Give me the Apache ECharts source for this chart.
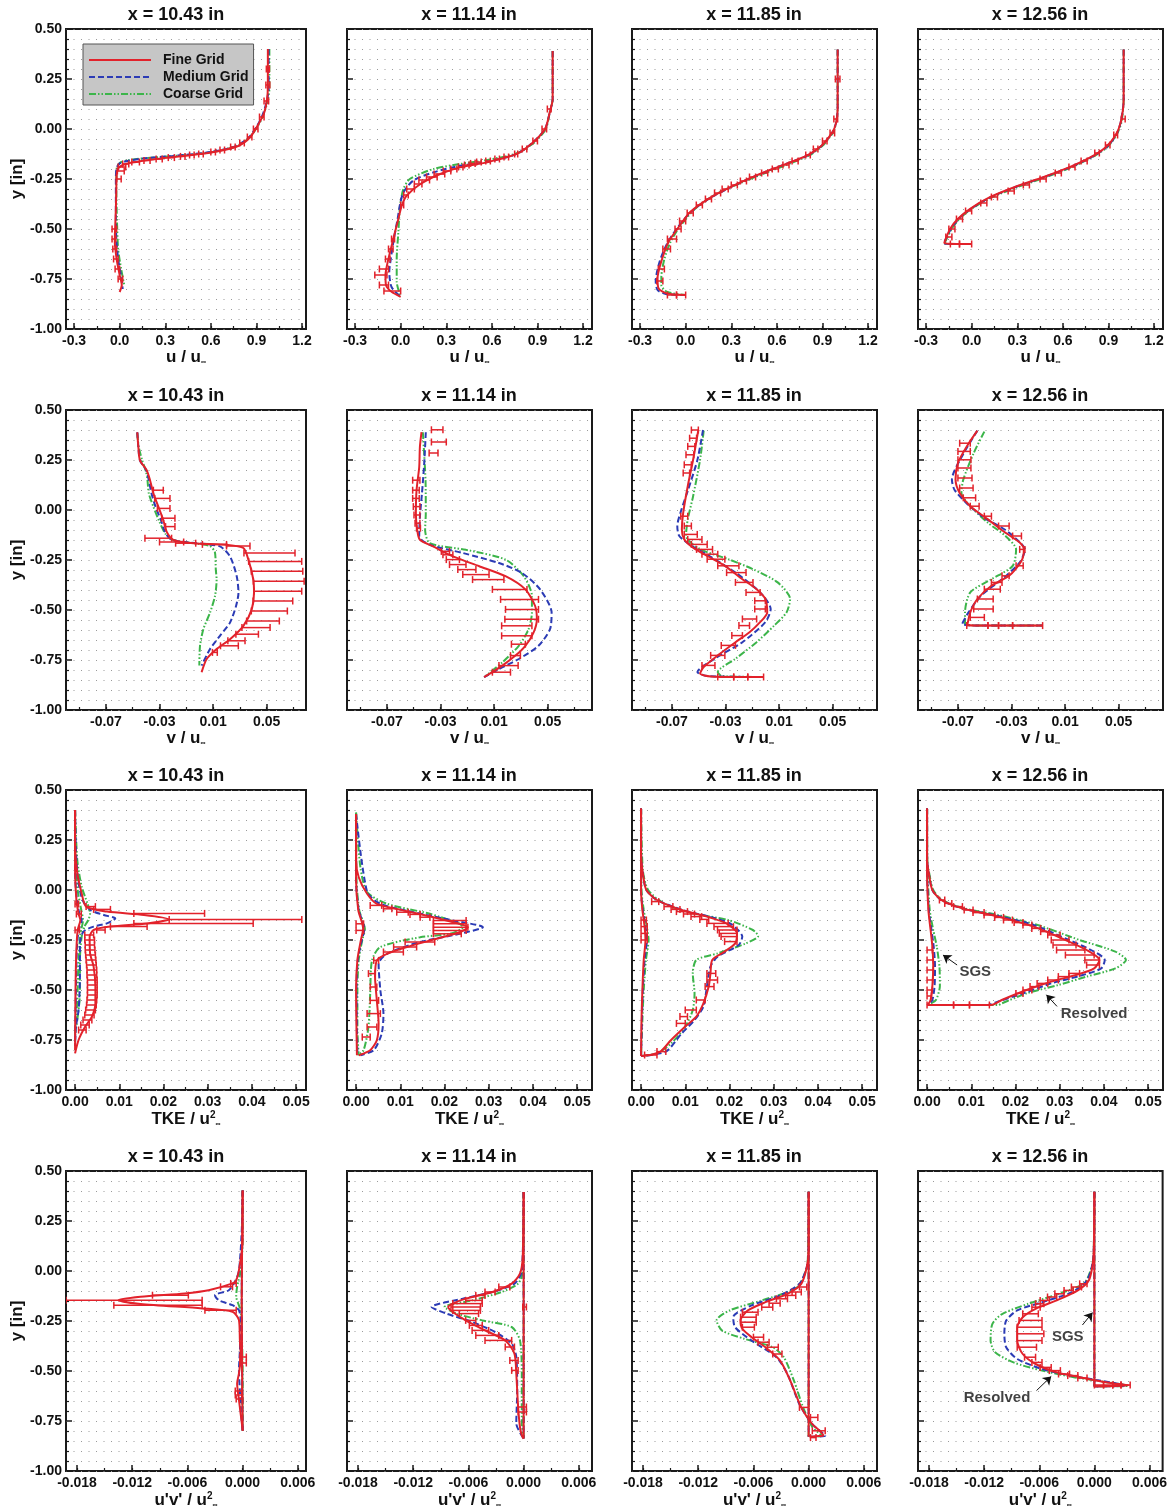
<!DOCTYPE html>
<html><head><meta charset="utf-8">
<script src="https://cdn.jsdelivr.net/npm/echarts@6/dist/echarts.min.js"></script>
<style>html,body{margin:0;padding:0;background:#fff}#c{width:1170px;height:1512px}</style>
</head><body><div id="c"></div>
<script>
// ---------------- tick labels / categories ----------------
const STATIONS = ['x = 10.43 in', 'x = 11.14 in', 'x = 11.85 in', 'x = 12.56 in'];
const LEGEND_NAMES = ['Fine Grid', 'Medium Grid', 'Coarse Grid'];
const U_TICKS = [-0.3, 0.0, 0.3, 0.6, 0.9, 1.2];
const U_MINOR = [-0.3, -0.15, 0.0, 0.15, 0.3, 0.45, 0.6, 0.75, 0.9, 1.05, 1.2];
const V_TICKS = [-0.07, -0.03, 0.01, 0.05];
const V_MINOR = [-0.09, -0.07, -0.05, -0.03, -0.01, 0.01, 0.03, 0.05, 0.07];
const K_TICKS = [0.0, 0.01, 0.02, 0.03, 0.04, 0.05];
const K_MINOR = [0.0, 0.005, 0.01, 0.015, 0.02, 0.025, 0.03, 0.035, 0.04, 0.045, 0.05];
const W_TICKS = [-0.018, -0.012, -0.006, 0.0, 0.006];
const W_MINOR = [-0.018, -0.015, -0.012, -0.009, -0.006, -0.003, 0.0, 0.003, 0.006];

// ---------------- row 1 : u / u_inf  ([value, y]) ----------------
const U1_FINE = [[0.975,0.40],[0.975,0.22],[0.97,0.15],[0.95,0.08],[0.91,0.02],[0.86,-0.04],[0.78,-0.085],[0.62,-0.115],[0.42,-0.135],[0.22,-0.152],[0.08,-0.168],[0.02,-0.18],[-0.01,-0.198],[-0.02,-0.23],[-0.022,-0.3],[-0.025,-0.4],[-0.03,-0.5],[-0.032,-0.56],[-0.02,-0.65],[0.0,-0.73],[0.014,-0.78],[0.0,-0.815]];
const U1_MED = [[0.98,0.40],[0.98,0.2],[0.965,0.13],[0.935,0.06],[0.9,0.01],[0.84,-0.05],[0.75,-0.09],[0.57,-0.118],[0.35,-0.135],[0.15,-0.148],[0.05,-0.16],[0.0,-0.172],[-0.02,-0.195],[-0.025,-0.25],[-0.025,-0.4],[-0.022,-0.55],[-0.01,-0.65],[0.01,-0.74],[0.02,-0.8]];
const U1_COARSE = [[0.985,0.40],[0.985,0.2],[0.97,0.13],[0.94,0.06],[0.905,0.01],[0.845,-0.05],[0.755,-0.09],[0.57,-0.12],[0.35,-0.135],[0.15,-0.147],[0.05,-0.157],[0.0,-0.17],[-0.02,-0.2],[-0.022,-0.3],[-0.018,-0.45],[-0.01,-0.6],[0.01,-0.7],[0.03,-0.78]];
const U1_ERR = [[0.30,0.965,0.985],[0.22,0.962,0.988],[0.14,0.95,0.98],[0.06,0.92,0.95],[0.0,0.88,0.91],[-0.04,0.84,0.87],[-0.07,0.79,0.82],[-0.09,0.73,0.76],[-0.105,0.66,0.69],[-0.115,0.6,0.63],[-0.125,0.52,0.55],[-0.13,0.46,0.49],[-0.137,0.4,0.43],[-0.143,0.32,0.36],[-0.15,0.24,0.28],[-0.157,0.16,0.2],[-0.165,0.08,0.13],[-0.175,0.02,0.06],[-0.19,-0.01,0.04],[-0.21,-0.015,0.03],[-0.25,-0.02,0.01],[-0.5,-0.05,-0.02],[-0.55,-0.05,-0.025],[-0.6,-0.045,-0.02],[-0.65,-0.04,-0.01],[-0.7,-0.03,0.0],[-0.75,-0.01,0.02]];

const U2_FINE = [[1.0,0.39],[1.0,0.15],[0.98,0.08],[0.95,0.0],[0.87,-0.067],[0.76,-0.126],[0.565,-0.167],[0.39,-0.192],[0.26,-0.225],[0.13,-0.275],[0.04,-0.333],[0.007,-0.383],[-0.015,-0.449],[-0.048,-0.549],[-0.08,-0.648],[-0.1,-0.731],[-0.096,-0.781],[-0.06,-0.814],[0.0,-0.839]];
const U2_MED = [[1.0,0.39],[1.0,0.15],[0.98,0.08],[0.95,0.0],[0.87,-0.067],[0.76,-0.126],[0.565,-0.165],[0.39,-0.184],[0.215,-0.217],[0.083,-0.258],[0.018,-0.317],[-0.005,-0.38],[-0.02,-0.45],[-0.045,-0.55],[-0.065,-0.65],[-0.075,-0.715],[-0.06,-0.79],[0.0,-0.839]];
const U2_COARSE = [[1.0,0.39],[1.0,0.15],[0.98,0.08],[0.955,0.0],[0.88,-0.067],[0.77,-0.12],[0.57,-0.155],[0.39,-0.175],[0.215,-0.2],[0.06,-0.25],[0.018,-0.3],[-0.004,-0.383],[-0.015,-0.515],[-0.026,-0.65],[-0.026,-0.764],[0.0,-0.839]];
const U2_ERR = [[0.1,0.965,0.99],[0.0,0.93,0.96],[-0.06,0.87,0.9],[-0.1,0.8,0.83],[-0.125,0.75,0.77],[-0.14,0.68,0.71],[-0.15,0.62,0.65],[-0.16,0.56,0.59],[-0.165,0.5,0.53],[-0.172,0.46,0.49],[-0.18,0.42,0.45],[-0.19,0.38,0.41],[-0.2,0.33,0.37],[-0.21,0.28,0.33],[-0.225,0.22,0.29],[-0.24,0.17,0.24],[-0.255,0.12,0.19],[-0.275,0.09,0.14],[-0.3,0.04,0.09],[-0.33,0.02,0.05],[-0.38,0.0,0.02],[-0.55,-0.06,-0.04],[-0.6,-0.08,-0.05],[-0.65,-0.1,-0.07],[-0.7,-0.14,-0.08],[-0.73,-0.17,-0.09],[-0.78,-0.14,-0.08],[-0.81,-0.11,0.0]];

const U3_FINE = [[1.0,0.397],[1.0,0.1],[0.99,0.032],[0.965,-0.017],[0.894,-0.084],[0.797,-0.133],[0.63,-0.183],[0.462,-0.233],[0.294,-0.291],[0.15,-0.349],[0.03,-0.415],[-0.053,-0.498],[-0.113,-0.565],[-0.161,-0.664],[-0.185,-0.747],[-0.178,-0.797],[-0.125,-0.822],[0.0,-0.83]];
const U3_MED = [[1.0,0.397],[1.0,0.1],[0.99,0.032],[0.965,-0.017],[0.894,-0.084],[0.8,-0.133],[0.63,-0.183],[0.46,-0.235],[0.29,-0.293],[0.15,-0.35],[0.03,-0.418],[-0.06,-0.5],[-0.12,-0.57],[-0.17,-0.66],[-0.197,-0.76],[-0.185,-0.805],[-0.13,-0.825],[0.0,-0.83]];
const U3_COARSE = [[1.0,0.397],[1.0,0.1],[0.99,0.032],[0.97,-0.017],[0.9,-0.084],[0.81,-0.133],[0.65,-0.183],[0.49,-0.23],[0.33,-0.28],[0.19,-0.33],[0.06,-0.4],[-0.04,-0.49],[-0.1,-0.565],[-0.14,-0.65],[-0.16,-0.74],[-0.16,-0.78],[-0.12,-0.815],[0.0,-0.83]];
const U3_ERR = [[0.25,0.985,1.015],[0.05,0.975,1.0],[-0.02,0.95,0.98],[-0.06,0.9,0.93],[-0.1,0.84,0.87],[-0.13,0.79,0.82],[-0.16,0.7,0.74],[-0.18,0.64,0.68],[-0.2,0.57,0.61],[-0.22,0.5,0.54],[-0.24,0.42,0.46],[-0.26,0.36,0.4],[-0.28,0.3,0.34],[-0.3,0.24,0.28],[-0.32,0.19,0.23],[-0.35,0.13,0.17],[-0.38,0.07,0.11],[-0.42,0.01,0.05],[-0.46,-0.04,0.0],[-0.5,-0.07,-0.03],[-0.55,-0.12,-0.06],[-0.6,-0.15,-0.1],[-0.7,-0.18,-0.14],[-0.76,-0.19,-0.15],[-0.83,-0.12,-0.06],[-0.83,-0.06,0.0]];

const U4_FINE = [[1.0,0.397],[1.0,0.148],[0.98,0.032],[0.945,-0.034],[0.88,-0.092],[0.78,-0.142],[0.64,-0.192],[0.47,-0.241],[0.28,-0.291],[0.12,-0.341],[-0.01,-0.399],[-0.09,-0.449],[-0.14,-0.498],[-0.17,-0.548],[-0.18,-0.57],[-0.1,-0.575],[0.0,-0.575]];
const U4_MED = [[1.0,0.397],[1.0,0.148],[0.98,0.032],[0.948,-0.034],[0.885,-0.092],[0.785,-0.142],[0.645,-0.192],[0.475,-0.241],[0.285,-0.291],[0.125,-0.341],[-0.005,-0.399],[-0.085,-0.449],[-0.135,-0.498],[-0.17,-0.55],[-0.185,-0.572],[-0.1,-0.575],[0.0,-0.575]];
const U4_COARSE = [[1.0,0.397],[1.0,0.148],[0.985,0.032],[0.95,-0.034],[0.89,-0.092],[0.79,-0.142],[0.655,-0.192],[0.49,-0.241],[0.3,-0.291],[0.135,-0.341],[0.0,-0.399],[-0.08,-0.449],[-0.13,-0.498],[-0.165,-0.55],[-0.18,-0.572],[-0.1,-0.575],[0.0,-0.575]];
const U4_ERR = [[0.05,0.985,1.01],[-0.03,0.935,0.96],[-0.08,0.88,0.91],[-0.12,0.81,0.84],[-0.16,0.72,0.76],[-0.19,0.64,0.68],[-0.22,0.55,0.59],[-0.25,0.45,0.49],[-0.28,0.34,0.38],[-0.31,0.24,0.28],[-0.34,0.13,0.17],[-0.37,0.06,0.1],[-0.41,-0.04,0.0],[-0.45,-0.1,-0.06],[-0.5,-0.15,-0.11],[-0.54,-0.17,-0.13],[-0.575,-0.14,-0.08],[-0.575,-0.08,0.0]];

// ---------------- row 2 : v / u_inf ----------------
const V1_FINE = [[-0.0466,0.389],[-0.0458,0.315],[-0.0446,0.248],[-0.0396,0.199],[-0.0371,0.149],[-0.0346,0.083],[-0.0309,0.017],[-0.0272,-0.05],[-0.0247,-0.108],[-0.0197,-0.149],[-0.0048,-0.166],[0.0201,-0.174],[0.0326,-0.19],[0.0363,-0.248],[0.04,-0.348],[0.0405,-0.414],[0.0388,-0.497],[0.0326,-0.579],[0.0226,-0.646],[0.0126,-0.695],[0.0052,-0.745],[0.0014,-0.811]];
const V1_MED = [[-0.0466,0.389],[-0.0458,0.315],[-0.0446,0.248],[-0.04,0.199],[-0.038,0.149],[-0.036,0.083],[-0.033,0.017],[-0.029,-0.05],[-0.026,-0.108],[-0.021,-0.149],[-0.0023,-0.166],[0.0151,-0.182],[0.0226,-0.232],[0.0276,-0.331],[0.0289,-0.414],[0.0271,-0.48],[0.0226,-0.563],[0.0151,-0.629],[0.0077,-0.695],[0.0014,-0.778]];
const V1_COARSE = [[-0.0466,0.385],[-0.0455,0.315],[-0.043,0.25],[-0.04,0.19],[-0.039,0.149],[-0.038,0.083],[-0.0346,0.017],[-0.03,-0.06],[-0.0255,-0.12],[-0.0197,-0.15],[-0.0048,-0.166],[0.0075,-0.18],[0.0113,-0.21],[0.012,-0.298],[0.0126,-0.348],[0.0114,-0.43],[0.0077,-0.513],[0.0027,-0.596],[0.0002,-0.679],[-0.0003,-0.778]];
const V1_ERR = [[0.099,-0.0346,-0.0272],[0.058,-0.0336,-0.0222],[0.008,-0.0316,-0.0222],[-0.041,-0.0284,-0.0185],[-0.083,-0.0255,-0.0185],[-0.141,-0.0409,-0.021],[-0.16,-0.03,-0.012],[-0.166,-0.018,-0.003],[-0.172,0.002,0.02],[-0.18,0.02,0.0375],[-0.215,0.033,0.0711],[-0.257,0.0365,0.0761],[-0.306,0.0385,0.0769],[-0.356,0.04,0.0779],[-0.406,0.0405,0.0761],[-0.455,0.0398,0.0694],[-0.505,0.0385,0.0654],[-0.555,0.035,0.0594],[-0.588,0.0315,0.0525],[-0.621,0.027,0.0438],[-0.654,0.021,0.0338],[-0.679,0.0155,0.0288],[-0.712,0.0095,0.0131]];

const V2_FINE = [[-0.0442,0.389],[-0.0454,0.315],[-0.0459,0.215],[-0.0479,0.099],[-0.0484,-0.017],[-0.0474,-0.099],[-0.0454,-0.149],[-0.0356,-0.182],[-0.0208,-0.232],[-0.0011,-0.281],[0.0185,-0.331],[0.0333,-0.397],[0.0406,-0.48],[0.0419,-0.546],[0.0394,-0.613],[0.0333,-0.679],[0.0259,-0.728],[0.0161,-0.778],[0.0025,-0.836]];
const V2_MED = [[-0.041,0.389],[-0.0422,0.23],[-0.0439,0.08],[-0.0454,-0.035],[-0.0459,-0.132],[-0.038,-0.174],[-0.0134,-0.215],[0.0136,-0.265],[0.0308,-0.315],[0.0443,-0.397],[0.0529,-0.513],[0.0517,-0.596],[0.0431,-0.679],[0.0284,-0.745],[0.0136,-0.795],[0.0025,-0.836]];
const V2_COARSE = [[-0.0432,0.389],[-0.0412,0.149],[-0.041,-0.017],[-0.0415,-0.1],[-0.038,-0.166],[-0.011,-0.199],[0.0185,-0.248],[0.0321,-0.331],[0.0382,-0.43],[0.0382,-0.513],[0.0357,-0.596],[0.0284,-0.679],[0.0161,-0.762],[0.0025,-0.836]];
const V2_ERR = [[0.401,-0.0368,-0.0282],[0.34,-0.0368,-0.0257],[0.285,-0.0385,-0.0319],[0.149,-0.0508,-0.0454],[0.099,-0.0508,-0.0459],[0.058,-0.0508,-0.0459],[0.017,-0.0503,-0.0454],[-0.025,-0.0498,-0.0454],[-0.066,-0.049,-0.0454],[-0.091,-0.0479,-0.045],[-0.207,-0.0294,-0.0233],[-0.224,-0.0282,-0.0208],[-0.248,-0.0257,-0.0159],[-0.273,-0.0233,-0.011],[-0.298,-0.0171,-0.0036],[-0.323,-0.0134,0.0062],[-0.348,-0.0061,0.0173],[-0.397,0.0087,0.0345],[-0.447,0.0148,0.0431],[-0.497,0.0185,0.0431],[-0.546,0.018,0.0431],[-0.579,0.0156,0.0382],[-0.629,0.0156,0.0382],[-0.671,0.0229,0.0333],[-0.728,0.0222,0.0296],[-0.778,0.0136,0.0279],[-0.811,0.0087,0.0222]];

const V3_FINE = [[-0.0503,0.40],[-0.0542,0.251],[-0.0582,0.119],[-0.0616,-0.014],[-0.0626,-0.097],[-0.0608,-0.147],[-0.0542,-0.188],[-0.0437,-0.23],[-0.0305,-0.279],[-0.0174,-0.346],[-0.0068,-0.396],[-0.0003,-0.445],[0.0011,-0.512],[-0.0042,-0.561],[-0.0121,-0.611],[-0.0226,-0.661],[-0.0358,-0.727],[-0.0463,-0.785],[-0.049,-0.818],[-0.041,-0.832],[-0.0016,-0.835]];
const V3_MED = [[-0.0468,0.40],[-0.051,0.25],[-0.058,0.1],[-0.063,0.0],[-0.066,-0.08],[-0.0645,-0.13],[-0.055,-0.18],[-0.042,-0.23],[-0.0226,-0.313],[-0.0042,-0.412],[0.0037,-0.495],[-0.0003,-0.561],[-0.0174,-0.661],[-0.0384,-0.744],[-0.051,-0.81],[-0.0437,-0.83],[-0.0016,-0.835]];
const V3_COARSE = [[-0.0463,0.397],[-0.049,0.251],[-0.0542,0.069],[-0.0582,-0.047],[-0.0595,-0.13],[-0.049,-0.196],[-0.0279,-0.246],[-0.0095,-0.296],[0.0089,-0.362],[0.0182,-0.445],[0.0155,-0.512],[0.0063,-0.578],[-0.0068,-0.661],[-0.0226,-0.744],[-0.0358,-0.81],[-0.033,-0.83],[-0.0016,-0.835]];
const V3_ERR = [[0.40,-0.0555,-0.0503],[0.359,-0.0568,-0.0516],[0.318,-0.0582,-0.0529],[0.276,-0.0595,-0.0537],[0.226,-0.0608,-0.0555],[0.185,-0.0616,-0.0568],[-0.031,-0.0634,-0.0582],[-0.08,-0.0608,-0.0555],[-0.122,-0.0608,-0.0511],[-0.147,-0.0582,-0.0476],[-0.172,-0.0555,-0.0437],[-0.197,-0.0516,-0.0397],[-0.221,-0.0476,-0.0358],[-0.246,-0.0437,-0.0305],[-0.279,-0.0358,-0.02],[-0.313,-0.0292,-0.0147],[-0.362,-0.0226,-0.0095],[-0.412,-0.0147,-0.0042],[-0.454,-0.0082,-0.0003],[-0.495,-0.0082,-0.0003],[-0.545,-0.0174,-0.0068],[-0.578,-0.02,-0.0121],[-0.628,-0.0253,-0.0174],[-0.677,-0.0332,-0.0226],[-0.727,-0.0411,-0.0305],[-0.777,-0.0476,-0.0379],[-0.835,-0.0358,-0.0239],[-0.835,-0.0239,-0.0134],[-0.835,-0.0134,-0.0016]];

const V4_FINE = [[-0.0555,0.397],[-0.0634,0.318],[-0.07,0.235],[-0.0718,0.152],[-0.0687,0.085],[-0.0608,0.019],[-0.0476,-0.047],[-0.0345,-0.114],[-0.0239,-0.163],[-0.0208,-0.197],[-0.0226,-0.255],[-0.0318,-0.329],[-0.045,-0.379],[-0.0555,-0.445],[-0.0608,-0.512],[-0.0629,-0.575],[-0.0503,-0.578],[-0.0068,-0.578]];
const V4_MED = [[-0.0555,0.397],[-0.066,0.28],[-0.0745,0.152],[-0.0725,0.1],[-0.0634,0.033],[-0.05,-0.04],[-0.0345,-0.1],[-0.024,-0.16],[-0.02,-0.197],[-0.024,-0.263],[-0.0371,-0.346],[-0.0529,-0.429],[-0.0621,-0.512],[-0.0668,-0.57],[-0.0503,-0.578],[-0.0068,-0.578]];
const V4_COARSE = [[-0.0503,0.392],[-0.0582,0.285],[-0.066,0.152],[-0.0674,0.085],[-0.0608,0.019],[-0.0476,-0.064],[-0.0345,-0.13],[-0.0266,-0.197],[-0.0292,-0.28],[-0.045,-0.346],[-0.0608,-0.412],[-0.0647,-0.512],[-0.0647,-0.57],[-0.05,-0.578],[-0.0068,-0.578]];
const V4_ERR = [[0.334,-0.0687,-0.0608],[0.293,-0.07,-0.0608],[0.251,-0.07,-0.0603],[0.21,-0.07,-0.0603],[0.16,-0.07,-0.0595],[0.11,-0.0687,-0.0587],[0.061,-0.066,-0.0568],[0.019,-0.0608,-0.0542],[-0.031,-0.0503,-0.045],[-0.08,-0.0397,-0.0318],[-0.13,-0.0292,-0.0226],[-0.197,-0.0239,-0.02],[-0.279,-0.0266,-0.0213],[-0.329,-0.0371,-0.0318],[-0.362,-0.045,-0.0371],[-0.396,-0.0503,-0.0384],[-0.445,-0.0555,-0.0437],[-0.495,-0.0582,-0.0437],[-0.537,-0.0608,-0.0503],[-0.578,-0.0634,-0.0476],[-0.578,-0.0476,-0.0397],[-0.578,-0.0397,-0.0292],[-0.578,-0.0292,-0.0068]];

// ---------------- row 3 : TKE / u_inf^2 (resolved + SGS) ----------------
const K1_FINE = [[0,0.4],[0,0.233],[0.0004,0.1],[0.0015,-0.017],[0.0025,-0.083],[0.0072,-0.108],[0.0156,-0.125],[0.0213,-0.147],[0.0163,-0.167],[0.008,-0.183],[0.0042,-0.2],[0.0033,-0.233],[0.0034,-0.317],[0.0042,-0.383],[0.0046,-0.483],[0.0046,-0.567],[0.0038,-0.633],[0.0023,-0.683],[0.0008,-0.75],[0,-0.817]];
const K1_MED = [[0,0.4],[0.0002,0.2],[0.0007,0.05],[0.0017,-0.05],[0.0035,-0.1],[0.0065,-0.125],[0.0091,-0.142],[0.0072,-0.167],[0.0042,-0.183],[0.0019,-0.208],[0.0011,-0.267],[0.0011,-0.433],[0.0008,-0.6],[0.0002,-0.683],[0,-0.767]];
const K1_COARSE = [[0,0.4],[0.0005,0.15],[0.0015,0.017],[0.0028,-0.067],[0.0034,-0.117],[0.003,-0.15],[0.0022,-0.18],[0.0015,-0.233],[0.0011,-0.35],[0.0011,-0.517],[0.0005,-0.65],[0,-0.717]];
const K1_FINE_SGS = [[0,0.4],[0,0.1],[0.0003,-0.05],[0.0008,-0.12],[0.0012,-0.15],[0.0006,-0.2],[0.0003,-0.3],[0.0001,-0.5],[0,-0.8]];
const K1_MED_SGS = [[0,0.4],[0,0.1],[0.0004,-0.05],[0.001,-0.12],[0.0015,-0.15],[0.0008,-0.2],[0.0004,-0.3],[0.0002,-0.5],[0,-0.78]];
const K1_COARSE_SGS = [[0,0.4],[0.0001,0.2],[0.0006,0.0],[0.0014,-0.1],[0.0018,-0.15],[0.0012,-0.22],[0.0008,-0.35],[0.0005,-0.55],[0,-0.72]];
const K1_ERR = [[-0.083,0.0025,0.0046],[-0.097,0.0042,0.008],[-0.117,0.0133,0.0293],[-0.147,0.0213,0.0513],[-0.167,0.0133,0.0403],[-0.183,0.008,0.0163],[-0.2,0.0049,0.0068],[-0.225,0.0022,0.0042],[-0.25,0.0022,0.0044],[-0.275,0.0023,0.0044],[-0.3,0.0023,0.0045],[-0.325,0.0024,0.0046],[-0.35,0.0025,0.0047],[-0.375,0.0026,0.0048],[-0.4,0.0027,0.0049],[-0.425,0.0027,0.0049],[-0.45,0.0028,0.005],[-0.475,0.0028,0.005],[-0.5,0.0028,0.005],[-0.525,0.0028,0.005],[-0.55,0.0027,0.0049],[-0.575,0.0026,0.0048],[-0.6,0.0024,0.0046],[-0.625,0.0022,0.0043],[-0.65,0.0018,0.0038],[-0.675,0.0013,0.0032],[-0.7,0.0008,0.0025],[-0.07,0.0,0.0008],[-0.12,0.0003,0.0014],[-0.2,0.0,0.001]];

const K2_FINE = [[0,0.38],[0,0.147],[0.0006,0.064],[0.0025,-0.019],[0.0047,-0.069],[0.0107,-0.102],[0.0175,-0.136],[0.0234,-0.169],[0.0253,-0.186],[0.0234,-0.211],[0.0182,-0.244],[0.0115,-0.285],[0.007,-0.319],[0.0047,-0.352],[0.0043,-0.435],[0.0047,-0.552],[0.0051,-0.668],[0.0047,-0.751],[0.0032,-0.801],[0.0006,-0.826]];
const K2_MED = [[0,0.38],[0.0025,-0.01],[0.0055,-0.069],[0.013,-0.111],[0.0219,-0.152],[0.0287,-0.186],[0.0234,-0.219],[0.0145,-0.26],[0.007,-0.319],[0.0051,-0.369],[0.0055,-0.502],[0.0062,-0.618],[0.0058,-0.718],[0.004,-0.801],[0.001,-0.826]];
const K2_COARSE = [[0,0.388],[0.001,0.11],[0.0025,-0.01],[0.007,-0.069],[0.0167,-0.119],[0.0234,-0.169],[0.0242,-0.186],[0.0212,-0.219],[0.0145,-0.236],[0.0055,-0.285],[0.0036,-0.352],[0.0032,-0.518],[0.0028,-0.685],[0.0017,-0.801],[0.0004,-0.826]];
const K2_FINE_SGS = [[0,0.38],[0,0.05],[0.0005,-0.1],[0.0013,-0.16],[0.0016,-0.194],[0.0011,-0.25],[0.0003,-0.35],[0,-0.5],[0.0001,-0.7],[0.0002,-0.826]];
const K2_MED_SGS = [[0,0.38],[0,0.05],[0.0006,-0.1],[0.0015,-0.16],[0.0019,-0.194],[0.0013,-0.25],[0.0004,-0.35],[0.0001,-0.5],[0.0002,-0.7],[0.0003,-0.826]];
const K2_COARSE_SGS = [[0,0.385],[0.0001,0.05],[0.0007,-0.1],[0.0016,-0.16],[0.002,-0.194],[0.0014,-0.25],[0.0006,-0.35],[0.0003,-0.5],[0.0003,-0.7],[0.0006,-0.826]];
const K2_ERR = [[-0.077,0.0032,0.0058],[-0.094,0.0062,0.0081],[-0.111,0.0092,0.0118],[-0.122,0.0122,0.0145],[-0.136,0.0145,0.0167],[-0.152,0.0175,0.0249],[-0.169,0.0175,0.0249],[-0.186,0.0175,0.0253],[-0.202,0.0175,0.0249],[-0.219,0.0175,0.0238],[-0.26,0.0111,0.0178],[-0.285,0.0085,0.0137],[-0.31,0.0062,0.0107],[-0.352,0.004,0.0051],[-0.418,0.0028,0.0043],[-0.485,0.0032,0.0047],[-0.552,0.0032,0.0051],[-0.618,0.0025,0.0055],[-0.685,0.0025,0.0047],[-0.735,0.0014,0.0032],[-0.169,0.0,0.0017],[-0.202,0.0,0.0017]];

const K3_FINE = [[0,0.408],[0,0.183],[0.0004,0.083],[0.0012,0.0],[0.0036,-0.05],[0.0092,-0.1],[0.0149,-0.133],[0.0193,-0.167],[0.0217,-0.217],[0.0213,-0.267],[0.0189,-0.308],[0.0161,-0.35],[0.0157,-0.417],[0.0153,-0.483],[0.0141,-0.567],[0.0125,-0.633],[0.01,-0.683],[0.0068,-0.75],[0.0044,-0.808],[0.002,-0.825],[0,-0.83]];
const K3_MED = [[0,0.408],[0,0.183],[0.0004,0.083],[0.0012,0.0],[0.0036,-0.05],[0.0094,-0.1],[0.0153,-0.133],[0.0201,-0.167],[0.0229,-0.233],[0.0221,-0.275],[0.0173,-0.333],[0.0157,-0.383],[0.0149,-0.483],[0.0141,-0.583],[0.0121,-0.65],[0.0092,-0.717],[0.0056,-0.808],[0,-0.83]];
const K3_COARSE = [[0,0.408],[0.0004,0.1],[0.0016,0.0],[0.0052,-0.067],[0.0117,-0.117],[0.0197,-0.15],[0.0253,-0.2],[0.0265,-0.23],[0.0237,-0.267],[0.0173,-0.317],[0.0125,-0.35],[0.0117,-0.417],[0.0121,-0.517],[0.0117,-0.6],[0.01,-0.683],[0.0068,-0.767],[0.0036,-0.817],[0,-0.83]];
const K3_FINE_SGS = [[0,0.408],[0,0.0],[0.0003,-0.1],[0.0008,-0.183],[0.001,-0.25],[0.0006,-0.35],[0.0003,-0.5],[0.0001,-0.65],[0,-0.83]];
const K3_MED_SGS = [[0,0.408],[0,0.0],[0.0004,-0.1],[0.001,-0.183],[0.0013,-0.25],[0.0008,-0.35],[0.0004,-0.5],[0.0002,-0.65],[0,-0.83]];
const K3_COARSE_SGS = [[0,0.408],[0.0001,0.0],[0.0006,-0.1],[0.0013,-0.183],[0.0017,-0.25],[0.0011,-0.35],[0.0006,-0.5],[0.0003,-0.65],[0,-0.83]];
const K3_ERR = [[-0.058,0.0024,0.004],[-0.083,0.0052,0.0072],[-0.097,0.0068,0.0088],[-0.108,0.008,0.0105],[-0.12,0.0096,0.0121],[-0.133,0.0113,0.0137],[-0.147,0.0133,0.0153],[-0.167,0.0149,0.0197],[-0.183,0.0165,0.0209],[-0.2,0.0173,0.0217],[-0.217,0.0177,0.0217],[-0.233,0.0181,0.0217],[-0.258,0.0189,0.0217],[-0.417,0.0149,0.0169],[-0.45,0.0149,0.0173],[-0.483,0.0145,0.0165],[-0.55,0.0125,0.0145],[-0.6,0.01,0.0125],[-0.633,0.0088,0.0105],[-0.667,0.008,0.01],[-0.808,0.0036,0.0056],[-0.825,0.0008,0.0036],[-0.15,0.0,0.0012],[-0.183,0.0,0.0014],[-0.217,0.0,0.0014],[-0.25,0.0,0.0014]];

const K4_FINE = [[0,0.408],[0,0.15],[0.0004,0.083],[0.0012,0.0],[0.0032,-0.05],[0.008,-0.092],[0.0161,-0.133],[0.0241,-0.183],[0.0305,-0.242],[0.0361,-0.3],[0.039,-0.35],[0.0378,-0.392],[0.0337,-0.425],[0.0281,-0.458],[0.0225,-0.5],[0.0169,-0.55],[0.0145,-0.575],[0.0,-0.575]];
const K4_MED = [[0,0.408],[0,0.15],[0.0004,0.083],[0.0012,0.0],[0.0032,-0.05],[0.008,-0.092],[0.0161,-0.13],[0.0241,-0.175],[0.0321,-0.25],[0.0378,-0.308],[0.0402,-0.35],[0.0394,-0.392],[0.0345,-0.43],[0.0281,-0.467],[0.0217,-0.517],[0.016,-0.558],[0.0137,-0.575],[0,-0.575]];
const K4_COARSE = [[0,0.408],[0,0.15],[0.0005,0.083],[0.0014,0.0],[0.0034,-0.05],[0.0084,-0.092],[0.0161,-0.125],[0.025,-0.175],[0.0345,-0.25],[0.0426,-0.308],[0.045,-0.35],[0.0426,-0.392],[0.0361,-0.433],[0.0297,-0.475],[0.0225,-0.517],[0.0169,-0.567],[0.0161,-0.575],[0,-0.575]];
const K4_FINE_SGS = [[0,0.408],[0,0.1],[0.0003,-0.1],[0.0008,-0.2],[0.0012,-0.283],[0.0014,-0.383],[0.0012,-0.48],[0.0008,-0.55],[0.0003,-0.57],[0,-0.575]];
const K4_MED_SGS = [[0,0.408],[0,0.1],[0.0004,-0.1],[0.001,-0.2],[0.0015,-0.283],[0.0018,-0.383],[0.0017,-0.48],[0.0012,-0.55],[0.0004,-0.57],[0,-0.575]];
const K4_COARSE_SGS = [[0,0.408],[0.0001,0.1],[0.0006,-0.1],[0.0014,-0.2],[0.0022,-0.283],[0.0028,-0.383],[0.0029,-0.48],[0.002,-0.55],[0.0006,-0.57],[0,-0.575]];
const K4_ERR = [[-0.05,0.0028,0.004],[-0.067,0.004,0.0056],[-0.083,0.006,0.008],[-0.1,0.0084,0.0104],[-0.113,0.0104,0.0129],[-0.125,0.0129,0.0153],[-0.137,0.0153,0.0173],[-0.15,0.0173,0.0193],[-0.163,0.0197,0.0217],[-0.175,0.0217,0.0237],[-0.192,0.0237,0.0257],[-0.208,0.0257,0.0277],[-0.225,0.0273,0.0301],[-0.25,0.0281,0.0321],[-0.275,0.0285,0.0337],[-0.3,0.0293,0.0357],[-0.325,0.0313,0.0378],[-0.35,0.0357,0.039],[-0.375,0.0361,0.039],[-0.417,0.0321,0.0345],[-0.433,0.0297,0.0321],[-0.45,0.0273,0.0297],[-0.467,0.0249,0.0273],[-0.483,0.0233,0.0253],[-0.5,0.0217,0.0237],[-0.517,0.0201,0.0217],[-0.575,0.0,0.006],[-0.575,0.006,0.0096],[-0.575,0.0096,0.0141],[-0.3,0.0,0.0012],[-0.35,0.0,0.0014],[-0.4,0.0,0.0014],[-0.45,0.0,0.0013],[-0.5,0.0,0.0012],[-0.53,0.0,0.001]];

// ---------------- row 4 : u'v' / u_inf^2 (resolved + SGS) ----------------
const W1_FINE = [[0,0.403],[0,0.154],[-0.0004,0.004],[-0.0007,-0.046],[-0.0011,-0.062],[-0.0037,-0.096],[-0.0063,-0.112],[-0.0111,-0.129],[-0.0135,-0.146],[-0.0111,-0.165],[-0.0044,-0.187],[-0.0011,-0.204],[-0.0004,-0.245],[-0.0003,-0.345],[-0.0002,-0.428],[-0.0004,-0.512],[-0.0006,-0.562],[-0.0004,-0.645],[0,-0.794]];
const W1_MED = [[0,0.403],[-0.0001,0.2],[-0.0004,0.0],[-0.0008,-0.05],[-0.0015,-0.096],[-0.003,-0.121],[-0.0026,-0.146],[-0.0011,-0.171],[-0.0004,-0.196],[-0.0002,-0.26],[-0.0003,-0.4],[-0.0004,-0.5],[-0.0003,-0.6],[-0.0002,-0.7],[0,-0.794]];
const W1_COARSE = [[0,0.403],[0,0.154],[-0.0002,0.004],[-0.0006,-0.079],[-0.0007,-0.129],[-0.0005,-0.16],[-0.0002,-0.2],[-0.0001,-0.3],[0,-0.5],[0,-0.8]];
const W1_SGS = [[0,0.403],[-0.0001,-0.15],[0,-0.8]];
const W1_ERR = [[-0.062,-0.0013,-0.0007],[-0.079,-0.0024,-0.0011],[-0.121,-0.0098,-0.0059],[-0.146,-0.0192,-0.0044],[-0.171,-0.014,-0.0044],[-0.196,-0.0041,-0.0007],[-0.43,-0.0003,0.0004],[-0.46,-0.0003,0.0004],[-0.6,-0.0008,-0.0001],[-0.62,-0.0008,-0.0001],[-0.64,-0.0007,0.0]];

const W2_FINE = [[0,0.395],[-0.0001,0.07],[-0.0004,-0.013],[-0.0013,-0.063],[-0.0034,-0.105],[-0.0063,-0.138],[-0.0077,-0.163],[-0.0082,-0.18],[-0.0077,-0.205],[-0.0063,-0.247],[-0.0042,-0.297],[-0.002,-0.347],[-0.001,-0.413],[-0.0008,-0.513],[-0.0006,-0.68],[-0.0004,-0.78],[-0.0002,-0.822],[0,-0.838]];
const W2_MED = [[0,0.395],[-0.0002,0.0],[-0.001,-0.063],[-0.0034,-0.105],[-0.0066,-0.138],[-0.01,-0.18],[-0.0084,-0.213],[-0.0056,-0.255],[-0.0031,-0.305],[-0.0013,-0.363],[-0.0008,-0.43],[-0.0007,-0.597],[-0.0008,-0.763],[0,-0.838]];
const W2_COARSE = [[0,0.395],[-0.0001,0.0],[-0.0006,-0.063],[-0.0024,-0.105],[-0.0056,-0.147],[-0.0086,-0.18],[-0.0073,-0.213],[-0.0045,-0.247],[-0.0013,-0.28],[-0.0004,-0.347],[-0.0002,-0.513],[-0.0002,-0.763],[0,-0.83]];
const W2_SGS = [[0,0.395],[0,-0.18],[0,-0.838]];
const W2_ERR = [[-0.08,-0.0027,-0.0015],[-0.105,-0.0042,-0.0031],[-0.122,-0.0052,-0.0042],[-0.147,-0.0063,-0.0045],[-0.163,-0.0077,-0.0045],[-0.18,-0.0079,-0.0047],[-0.197,-0.0077,-0.0047],[-0.213,-0.007,-0.0049],[-0.247,-0.0063,-0.0052],[-0.272,-0.0059,-0.0045],[-0.297,-0.0056,-0.0038],[-0.322,-0.0052,-0.0027],[-0.347,-0.0042,-0.0013],[-0.38,-0.002,-0.001],[-0.447,-0.0015,-0.0006],[-0.497,-0.0013,-0.0006],[-0.68,-0.0006,0.0003],[-0.705,-0.0006,0.0003],[-0.18,-0.0001,0.0003]];

const W3_FINE = [[0,0.396],[0,0.104],[-0.0002,0.02],[-0.0008,-0.064],[-0.0023,-0.114],[-0.0047,-0.156],[-0.0066,-0.197],[-0.0074,-0.247],[-0.0072,-0.289],[-0.0062,-0.331],[-0.0047,-0.381],[-0.0031,-0.448],[-0.002,-0.548],[-0.0008,-0.682],[0.0004,-0.766],[0.0012,-0.799],[0.0016,-0.824],[0.0008,-0.826],[0.0001,-0.829]];
const W3_MED = [[0,0.396],[0,0.104],[-0.0002,0.02],[-0.001,-0.064],[-0.0031,-0.122],[-0.0062,-0.172],[-0.0082,-0.231],[-0.008,-0.281],[-0.0062,-0.348],[-0.0035,-0.431],[-0.0023,-0.515],[-0.001,-0.666],[0.0004,-0.766],[0.0018,-0.824],[0.0001,-0.829]];
const W3_COARSE = [[0,0.396],[-0.0001,0.05],[-0.0012,-0.08],[-0.0051,-0.147],[-0.0086,-0.197],[-0.01,-0.247],[-0.0094,-0.298],[-0.007,-0.339],[-0.0039,-0.381],[-0.0027,-0.431],[-0.0016,-0.548],[-0.0006,-0.682],[0.0004,-0.78],[0.0014,-0.824],[0.0001,-0.829]];
const W3_SGS = [[0,0.396],[0,-0.3],[0,-0.829]];
const W3_ERR = [[-0.08,-0.001,-0.0002],[-0.105,-0.0018,-0.0008],[-0.122,-0.0025,-0.0014],[-0.139,-0.0035,-0.0023],[-0.161,-0.0043,-0.0031],[-0.181,-0.0051,-0.0039],[-0.206,-0.0072,-0.0055],[-0.231,-0.0074,-0.0057],[-0.256,-0.0074,-0.0057],[-0.281,-0.0072,-0.0059],[-0.331,-0.006,-0.0049],[-0.356,-0.0055,-0.0043],[-0.381,-0.0045,-0.0033],[-0.415,-0.0039,-0.0029],[-0.682,-0.001,0.0],[-0.732,0.0002,0.001],[-0.799,0.0004,0.0018],[-0.833,0.0002,0.0008]];

const W4_FINE = [[0,0.396],[-0.0001,0.07],[-0.0006,-0.047],[-0.0018,-0.097],[-0.0041,-0.147],[-0.0064,-0.189],[-0.0078,-0.231],[-0.0084,-0.281],[-0.0084,-0.348],[-0.0078,-0.415],[-0.0064,-0.465],[-0.0041,-0.507],[-0.0014,-0.532],[-0.0001,-0.545],[0.0021,-0.562],[0.0037,-0.572],[0,-0.577]];
const W4_MED = [[0,0.396],[-0.0001,0.07],[-0.0008,-0.047],[-0.0025,-0.107],[-0.0057,-0.156],[-0.0084,-0.197],[-0.0096,-0.248],[-0.0098,-0.315],[-0.0096,-0.381],[-0.0084,-0.44],[-0.0057,-0.49],[-0.0025,-0.524],[0.0002,-0.545],[0.0033,-0.572],[0,-0.577]];
const W4_COARSE = [[0,0.396],[-0.0001,0.07],[-0.001,-0.055],[-0.0033,-0.105],[-0.0072,-0.164],[-0.01,-0.214],[-0.0111,-0.264],[-0.0113,-0.348],[-0.0108,-0.406],[-0.0088,-0.457],[-0.0057,-0.498],[-0.0021,-0.532],[0.0002,-0.548],[0.0037,-0.574],[0,-0.577]];
const W4_SGS = [[0,0.396],[0,-0.3],[0,-0.577]];
const W4_ERR = [[-0.064,-0.0016,-0.0008],[-0.08,-0.0025,-0.0014],[-0.097,-0.0033,-0.0023],[-0.114,-0.0043,-0.0033],[-0.13,-0.0051,-0.0041],[-0.147,-0.0059,-0.0049],[-0.164,-0.0064,-0.0055],[-0.181,-0.0068,-0.0059],[-0.214,-0.0078,-0.0061],[-0.247,-0.0082,-0.0057],[-0.281,-0.0084,-0.0057],[-0.314,-0.0084,-0.0055],[-0.348,-0.0084,-0.0057],[-0.381,-0.0084,-0.0063],[-0.431,-0.0076,-0.0064],[-0.457,-0.0068,-0.0057],[-0.482,-0.0059,-0.0047],[-0.498,-0.0049,-0.0037],[-0.515,-0.0039,-0.0027],[-0.523,-0.0029,-0.0018],[-0.535,-0.0018,-0.0008],[-0.57,0.0,0.001],[-0.57,0.001,0.002],[-0.57,0.002,0.0029],[-0.57,0.0029,0.0039]];

// ---------------- annotations (data coordinates) ----------------
const TKE_NOTES = [{text:'SGS', at:[0.0109,-0.41], from:[0.0068,-0.375], to:[0.0036,-0.325]},
                   {text:'Resolved', at:[0.0378,-0.62], from:[0.0294,-0.582], to:[0.0270,-0.524]}];
const UV_NOTES = [{text:'SGS', at:[-0.0029,-0.33], from:[-0.0013,-0.27], to:[-0.0002,-0.208]},
                  {text:'Resolved', at:[-0.0106,-0.635], from:[-0.0063,-0.598], to:[-0.0047,-0.527]}];

// ---------------- layout & style ----------------
const COL_LEFT = [66, 347, 632, 918];
const COL_W = [240, 245, 245, 245];
const ROW_TOP = [29, 410, 790, 1171];
const GRID_H = 300;
const TITLE_X = [176, 469, 754, 1040];
const RED = '#e2222b', BLUE = '#2b3bb5', GREEN = '#3cb54a', INK = '#111';
const FONT = '"Liberation Sans", Arial, Helvetica, sans-serif';
const DOT = {color: '#9a9a9a', width: 1, type: [1, 6.5]};

const NAME_RICH = {
  m: {fontSize: 17, fontWeight: 'bold', fontFamily: FONT, color: INK},
  p: {fontSize: 10, fontWeight: 'bold', fontFamily: FONT, color: INK, verticalAlign: 'top', padding: [0, 0, 8, 0]},
  s: {fontSize: 7, fontWeight: 'bold', fontFamily: FONT, color: INK, verticalAlign: 'bottom', padding: [7, 0, 0, 0]}
};
const VARS = {
  u: {min: -0.353, ppu: 152, ticks: U_TICKS, minor: U_MINOR, fmt: v => v.toFixed(1), name: '{m|u / u}{s|∞}'},
  v: {min: -0.0998, ppu: 1340, ticks: V_TICKS, minor: V_MINOR, fmt: v => v.toFixed(2), name: '{m|v / u}{s|∞}'},
  k: {min: -0.00205, ppu: 4420, ticks: K_TICKS, minor: K_MINOR, fmt: v => v.toFixed(2), name: '{m|TKE / u}{p|2}{s|∞}'},
  w: {min: -0.0192, ppu: 9200, ticks: W_TICKS, minor: W_MINOR, fmt: v => v.toFixed(3), name: "{m|u'v' / u}{p|2}{s|∞}"}
};

const PANELS = [
  {row:0,col:0,v:'u',lines:[U1_FINE,U1_MED,U1_COARSE],err:U1_ERR},
  {row:0,col:1,v:'u',lines:[U2_FINE,U2_MED,U2_COARSE],err:U2_ERR},
  {row:0,col:2,v:'u',lines:[U3_FINE,U3_MED,U3_COARSE],err:U3_ERR},
  {row:0,col:3,v:'u',lines:[U4_FINE,U4_MED,U4_COARSE],err:U4_ERR},
  {row:1,col:0,v:'v',lines:[V1_FINE,V1_MED,V1_COARSE],err:V1_ERR},
  {row:1,col:1,v:'v',lines:[V2_FINE,V2_MED,V2_COARSE],err:V2_ERR},
  {row:1,col:2,v:'v',lines:[V3_FINE,V3_MED,V3_COARSE],err:V3_ERR},
  {row:1,col:3,v:'v',lines:[V4_FINE,V4_MED,V4_COARSE],err:V4_ERR},
  {row:2,col:0,v:'k',lines:[K1_FINE,K1_MED,K1_COARSE],sgs:[K1_FINE_SGS,K1_MED_SGS,K1_COARSE_SGS],err:K1_ERR},
  {row:2,col:1,v:'k',lines:[K2_FINE,K2_MED,K2_COARSE],sgs:[K2_FINE_SGS,K2_MED_SGS,K2_COARSE_SGS],err:K2_ERR},
  {row:2,col:2,v:'k',lines:[K3_FINE,K3_MED,K3_COARSE],sgs:[K3_FINE_SGS,K3_MED_SGS,K3_COARSE_SGS],err:K3_ERR},
  {row:2,col:3,v:'k',lines:[K4_FINE,K4_MED,K4_COARSE],sgs:[K4_FINE_SGS,K4_MED_SGS,K4_COARSE_SGS],err:K4_ERR,notes:TKE_NOTES},
  {row:3,col:0,v:'w',lines:[W1_FINE,W1_MED,W1_COARSE],sgs:[W1_SGS,W1_SGS,W1_SGS],err:W1_ERR},
  {row:3,col:1,v:'w',lines:[W2_FINE,W2_MED,W2_COARSE],sgs:[W2_SGS,W2_SGS,W2_SGS],err:W2_ERR},
  {row:3,col:2,v:'w',lines:[W3_FINE,W3_MED,W3_COARSE],sgs:[W3_SGS,W3_SGS,W3_SGS],err:W3_ERR},
  {row:3,col:3,v:'w',lines:[W4_FINE,W4_MED,W4_COARSE],sgs:[W4_SGS,W4_SGS,W4_SGS],err:W4_ERR,notes:UV_NOTES}
];

const LINE_STYLES = [
  {color: RED, width: 2, type: 'solid'},
  {color: BLUE, width: 2, type: [6, 3]},
  {color: GREEN, width: 2, type: [7, 2, 1.5, 2, 1.5, 2]}
];

function renderErr(params, api) {
  const y = api.value(0), lo = api.value(1), hi = api.value(2);
  const a = api.coord([lo, y]), b = api.coord([hi, y]);
  const h = 3.5, st = {stroke: RED, lineWidth: 1.5};
  return {type: 'group', children: [
    {type: 'line', shape: {x1: a[0], y1: a[1], x2: b[0], y2: b[1]}, style: st},
    {type: 'line', shape: {x1: a[0], y1: a[1] - h, x2: a[0], y2: a[1] + h}, style: st},
    {type: 'line', shape: {x1: b[0], y1: b[1] - h, x2: b[0], y2: b[1] + h}, style: st}
  ]};
}

const grids = [], xAxes = [], yAxes = [], series = [], graphics = [];
PANELS.forEach((p, i) => {
  const cfg = VARS[p.v];
  const left = COL_LEFT[p.col], width = COL_W[p.col], top = ROW_TOP[p.row];
  const xmin = cfg.min, xmax = cfg.min + width / cfg.ppu;
  grids.push({left, top, width, height: GRID_H, show: true, borderColor: '#1a1a1a', borderWidth: 2, backgroundColor: '#fff'});
  const xi = xAxes.length;
  xAxes.push({
    gridIndex: i, type: 'value', min: xmin, max: xmax, position: 'bottom',
    axisLine: {show: false, onZero: false},
    axisTick: {show: true, inside: true, length: 6, customValues: cfg.ticks, lineStyle: {color: '#1a1a1a', width: 1.5}},
    axisLabel: {show: true, customValues: cfg.ticks, formatter: cfg.fmt, margin: 5, fontSize: 14, fontWeight: 'bold', fontFamily: FONT, color: INK},
    splitLine: {show: false},
    name: cfg.name, nameLocation: 'middle', nameGap: 18,
    nameTextStyle: {rich: NAME_RICH}
  });
  xAxes.push({
    gridIndex: i, type: 'value', min: xmin, max: xmax, position: 'bottom',
    axisLine: {show: false, onZero: false}, axisLabel: {show: false},
    axisTick: {show: true, inside: true, length: 3, customValues: cfg.minor, lineStyle: {color: '#1a1a1a', width: 1.2}},
    splitLine: {show: false}
  });
  yAxes.push({
    gridIndex: i, type: 'value', min: -1, max: 0.5, interval: 0.25,
    axisLine: {show: false, onZero: false},
    axisTick: {show: true, inside: true, length: 6, lineStyle: {color: '#1a1a1a', width: 1.5}},
    minorTick: {show: true, splitNumber: 5, length: 3, lineStyle: {color: '#1a1a1a', width: 1.2}},
    splitLine: {show: true, lineStyle: DOT},
    minorSplitLine: {show: true, lineStyle: DOT},
    axisLabel: {show: p.col === 0, formatter: v => v.toFixed(2), margin: 4, fontSize: 14, fontWeight: 'bold', fontFamily: FONT, color: INK},
    name: p.col === 0 ? 'y [in]' : '', nameLocation: 'middle', nameGap: 39,
    nameTextStyle: {fontSize: 17, fontWeight: 'bold', fontFamily: FONT, color: INK}
  });
  const yi = i;
  const addLine = (data, g, tag) => series.push({
    type: 'line', name: tag ? LEGEND_NAMES[g] + tag : LEGEND_NAMES[g], xAxisIndex: xi, yAxisIndex: yi, data,
    symbol: 'none', showSymbol: false, smooth: 0.25, clip: true, silent: true,
    lineStyle: LINE_STYLES[g], itemStyle: {color: LINE_STYLES[g].color}, z: 3 - g * 0.1
  });
  p.lines.forEach((d, g) => addLine(d, g, ''));
  if (p.sgs) p.sgs.forEach((d, g) => addLine(d, g, ' SGS'));
  series.push({type: 'custom', name: 'Fine Grid scatter band', xAxisIndex: xi, yAxisIndex: yi, data: p.err,
    renderItem: renderErr, encode: {x: [1, 2], y: 0}, silent: true, z: 4, clip: true});
  if (p.notes) {
    series.push({
      type: 'scatter', name: 'notes', xAxisIndex: xi, yAxisIndex: yi, symbolSize: 1, silent: true,
      itemStyle: {color: 'rgba(0,0,0,0)'}, z: 6,
      data: p.notes.map(n => ({value: n.at, label: {formatter: n.text}})),
      label: {show: true, position: 'inside', fontSize: 15, fontWeight: 'bold', fontFamily: FONT, color: INK},
      markLine: {silent: true, symbol: ['none', 'arrow'], symbolSize: 8, animation: false,
        lineStyle: {color: INK, width: 1, type: 'solid'}, label: {show: false},
        data: p.notes.map(n => [{coord: n.from}, {coord: n.to}])}
    });
  }
  graphics.push({type: 'text', x: TITLE_X[p.col], y: top - 14, silent: true,
    style: {text: STATIONS[p.col], font: 'bold 18px ' + FONT, fill: INK, align: 'center', verticalAlign: 'middle', textAlign: 'center', textVerticalAlign: 'middle'}});
});

const chart = echarts.init(document.getElementById('c'), null, {renderer: 'canvas'});
chart.setOption({
  animation: false,
  backgroundColor: '#fff',
  textStyle: {fontFamily: FONT},
  grid: grids, xAxis: xAxes, yAxis: yAxes, series,
  graphic: graphics,
  legend: {
    data: LEGEND_NAMES, left: 83, top: 44, orient: 'vertical', selectedMode: false,
    backgroundColor: '#c6c6c6', borderColor: '#555', borderWidth: 1, borderRadius: 0,
    padding: [9, 5, 4, 5], itemGap: 3, itemWidth: 62, itemHeight: 12,
    itemStyle: {opacity: 0},
    textStyle: {fontSize: 14, fontWeight: 'bold', fontFamily: FONT, color: INK, padding: [0, 0, 0, 7]}
  }
});
</script></body></html>
